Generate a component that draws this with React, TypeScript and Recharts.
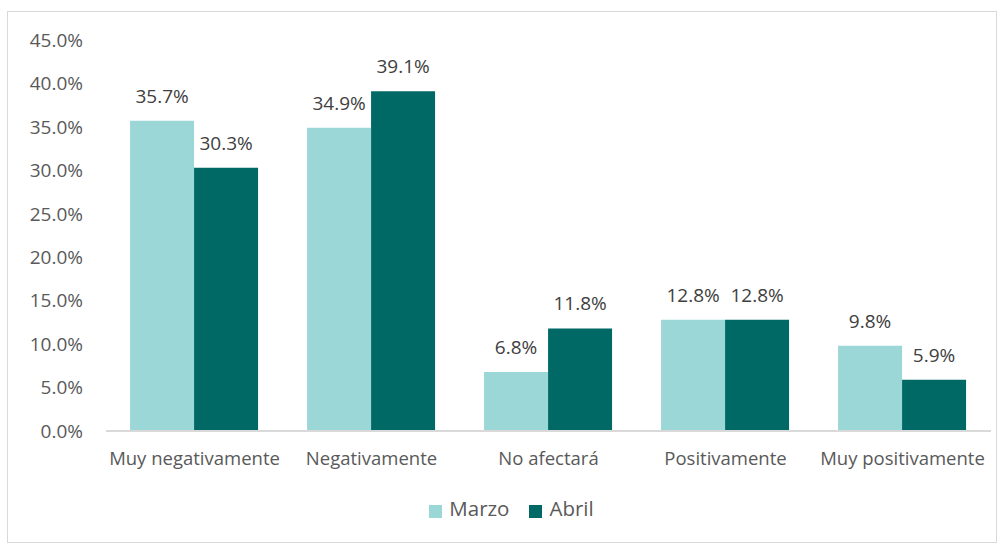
import React from "react"
import { BarChart, Bar, XAxis, YAxis, Legend, LabelList } from "recharts"

const categories = [
  "Muy negativamente",
  "Negativamente",
  "No afectará",
  "Positivamente",
  "Muy positivamente",
]
const marzo = [35.7, 34.9, 6.8, 12.8, 9.8]
const abril = [30.3, 39.1, 11.8, 12.8, 5.9]
const yTicks = [0, 5, 10, 15, 20, 25, 30, 35, 40, 45]
const seriesOrder = ["Marzo", "Abril"]

const data = categories.map((name, i) => ({
  name,
  Marzo: marzo[i],
  Abril: abril[i],
}))

const FONT = "'Open Sans', sans-serif"
const fmt = (v: number) => `${v.toFixed(1)}%`

const App = () => {
  return (
    <div
      style={{
        position: "absolute",
        left: 7,
        top: 11,
        width: 988,
        height: 530,
        border: "1px solid #d9d9d9",
        fontFamily: FONT,
      }}
    >
      <BarChart
        width={986}
        height={528}
        data={data}
        margin={{ top: 28, right: 3, left: 0, bottom: 18 }}
        barCategoryGap="13.6%"
        barGap={0}
      >
        <XAxis
          dataKey="name"
          tickLine={false}
          tickSize={0}
          tickMargin={21}
          height={63}
          stroke="#d9d9d9"
          strokeWidth={2}
          tick={{ fill: "#595959", fontSize: 18.5, fontFamily: FONT }}
          interval={0}
        />
        <YAxis
          domain={[0, 45]}
          ticks={yTicks}
          width={98}
          axisLine={false}
          tickLine={false}
          tickSize={0}
          tickMargin={23}
          tickFormatter={fmt}
          tick={{ fill: "#595959", fontSize: 19, fontFamily: FONT }}
          interval={0}
        />
        <Legend
          verticalAlign="bottom"
          iconType="square"
          iconSize={13}
          wrapperStyle={{ paddingLeft: 22 }}
          itemSorter={(item: any) => seriesOrder.indexOf(item.value)}
          formatter={(value) => (
            <span
              style={{
                color: "#595959",
                fontSize: 20.5,
                fontFamily: FONT,
                marginLeft: 3,
                marginRight: 10,
              }}
            >
              {value}
            </span>
          )}
        />
        <Bar dataKey="Marzo" fill="#9bd7d6" isAnimationActive={false}>
          <LabelList
            dataKey="Marzo"
            position="top"
            offset={18}
            formatter={(v: number) => fmt(v)}
            style={{ fill: "#404040", fontSize: 19, fontFamily: FONT }}
          />
        </Bar>
        <Bar dataKey="Abril" fill="#006966" isAnimationActive={false}>
          <LabelList
            dataKey="Abril"
            position="top"
            offset={18}
            formatter={(v: number) => fmt(v)}
            style={{ fill: "#404040", fontSize: 19, fontFamily: FONT }}
          />
        </Bar>
      </BarChart>
    </div>
  )
}

export default App
